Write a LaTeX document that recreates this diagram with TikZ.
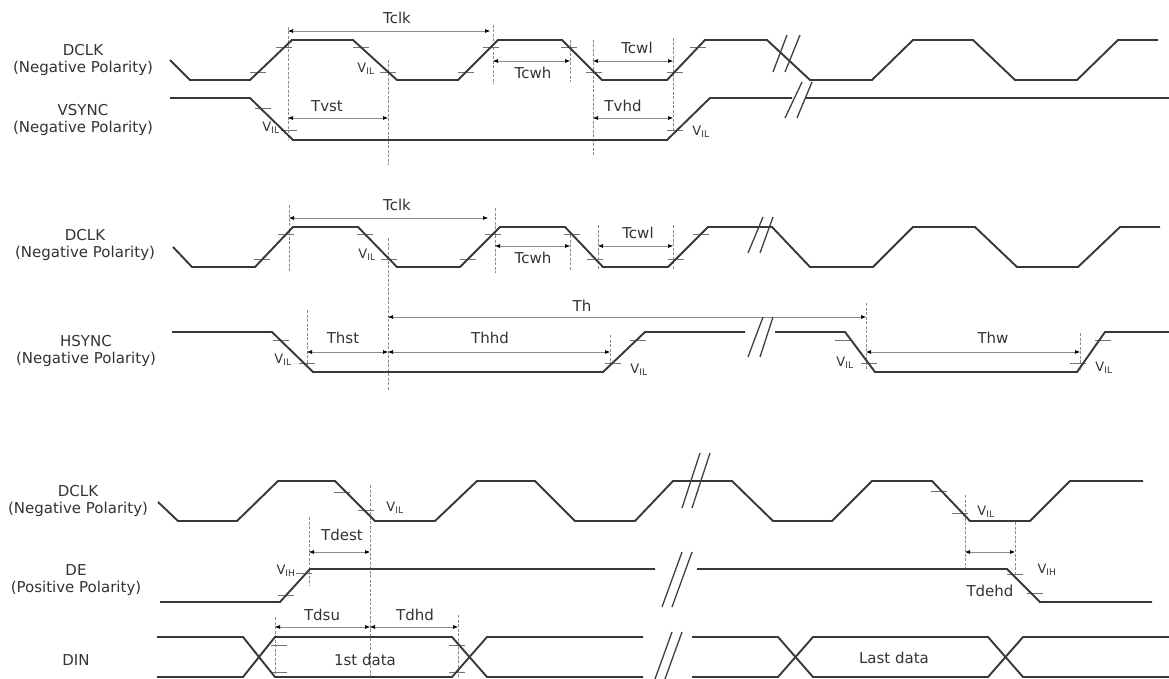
\documentclass[tikz,border=0pt]{standalone}
\usepackage{fontspec}
\setmainfont{DejaVu Sans}
\usetikzlibrary{arrows.meta}
\newcommand\vil{V\textsubscript{IL}}
\newcommand\vih{V\textsubscript{IH}}

\begin{document}
\begin{tikzpicture}
    [x=1pt,y=-1pt,
     wave/.style={draw=black!78,line width=1.9pt},
     guide/.style={draw=black!45,line width=0.6pt,dash pattern=on 3pt off 1.5pt},
     dim/.style={draw=black!45,line width=0.6pt,{Latex[length=5pt,width=4pt,black]}-{Latex[length=5pt,width=4pt,black]}},
     tick/.style={draw=black!55,line width=0.8pt},
     brk/.style={draw=black!75,line width=1.3pt},
     sig/.style={align=center,font=\fontsize{15}{16.5}\selectfont,text=black!80},
     lbl/.style={font=\fontsize{15}{16}\selectfont,text=black!80},
     lvl/.style={font=\fontsize{13}{13}\selectfont,text=black!80,inner sep=1pt}]
    \fill[white] (0,0) rectangle (1169,679);
    \useasboundingbox (0,0) rectangle (1169,679);

    \node[sig] (dclkA) at (83,60) {DCLK\\(Negative Polarity)};
    \node[sig] (vsync) at (83,120) {VSYNC\\(Negative Polarity)};
    \node[sig] (dclkB) at (85,245) {DCLK\\(Negative Polarity)};
    \node[sig] (hsync) at (86,351) {HSYNC\\(Negative Polarity)};
    \node[sig] (dclkC) at (78,501) {DCLK\\(Negative Polarity)};
    \node[sig] (de) at (76,580) {DE\\(Positive Polarity)};
    \node[sig] (din) at (76,660) {DIN};

    \foreach \x/\a/\b in {288/27/140, 388/60/165, 493/25/84, 570/40/82, 593/40/155, 673/38/137,
                          289/205/272, 388/238/390, 495/208/273, 570/235/270, 598/225/270, 673/225/270,
                          307/310/367, 610/335/366, 866/303/370, 1080/333/370,
                          370/485/677, 309/517/585, 965/495/568, 1015/522/575, 275/617/677, 458/615/677}
        \draw[guide] (\x,\a) -- (\x,\b);

    \foreach \a/\b/\y in {288/490/31, 288/388/118, 493/570/61, 593/673/61, 593/673/118,
                          289/488/218, 495/570/246, 598/673/246, 388/866/317,
                          307/388/352, 388/610/352, 866/1080/352,
                          309/370/552, 965/1015/552, 275/370/627, 370/458/627}
        \draw[dim] (\a,\y) -- (\b,\y);

    \node[lbl] (tclkA) at (397,18) {Tclk};
    \node[lbl] (tvst) at (327,106) {Tvst};
    \node[lbl] (tcwhA) at (533,73) {Tcwh};
    \node[lbl] (tcwlA) at (637,48) {Tcwl};
    \node[lbl] (tvhd) at (623,106) {Tvhd};
    \node[lbl] (tclkB) at (397,205) {Tclk};
    \node[lbl] (tcwhB) at (533,258) {Tcwh};
    \node[lbl] (tcwlB) at (638,233) {Tcwl};
    \node[lbl] (th) at (582,306) {Th};
    \node[lbl] (thst) at (343,338) {Thst};
    \node[lbl] (thhd) at (490,338) {Thhd};
    \node[lbl] (thw) at (993,338) {Thw};
    \node[lbl] (tdest) at (342,535) {Tdest};
    \node[lbl] (tdehd) at (990,591) {Tdehd};
    \node[lbl] (tdsu) at (322,615) {Tdsu};
    \node[lbl] (tdhd) at (415,615) {Tdhd};
    \node[lbl] (first) at (365,660) {1st data};
    \node[lbl] (last) at (894,658) {Last data};

    \foreach \x/\y in {258/72, 284/47, 361/47, 388/72, 466/72, 491/47, 569/47, 594/72, 675/72, 698/47,
                       263/108, 289/130, 675/130,
                       262/259, 286/234, 365/234, 389/259, 468/259, 493/234, 572/234, 595/259, 676/259, 701/234,
                       281/340, 307/363, 613/363, 638/340, 843/340, 869/363, 1078/363, 1103/340,
                       342/492, 366/510, 939/491, 960/513,
                       286/595, 304/573, 1015/574, 1035/593,
                       279/645, 279/672, 457/645, 457/672}
        \draw[tick] (\x-8,\y) -- (\x+8,\y);

    \node[lvl] (vilA) at (366,69) {\vil};
    \node[lvl] (vilB) at (271,128) {\vil};
    \node[lvl] (vilC) at (701,132) {\vil};
    \node[lvl] (vilD) at (367,255) {\vil};
    \node[lvl] (vilE) at (283,360) {\vil};
    \node[lvl] (vilF) at (639,370) {\vil};
    \node[lvl] (vilG) at (845,363) {\vil};
    \node[lvl] (vilH) at (1104,368) {\vil};
    \node[lvl] (vilI) at (395,508) {\vil};
    \node[lvl] (vilJ) at (986,512) {\vil};
    \node[lvl] (vihA) at (286,571) {\vih};
    \node[lvl] (vihB) at (1047,570) {\vih};

    \draw[wave] (170,60) -- (190,80) -- (250,80) -- (292,40) -- (353,40) -- (397,80) -- (458,80) -- (498,40)
        -- (562,40) -- (602,80) -- (667,80) -- (705,40) -- (767,40) -- (810,80) -- (872,80) -- (913,40)
        -- (973,40) -- (1015,80) -- (1077,80) -- (1118,40) -- (1158,40);
    \draw[wave] (170,98) -- (250,98) -- (293,140) -- (667,140) -- (710,98) -- (792,98);
    \draw[wave] (806,98) -- (1169,98);
    \draw[wave] (173,247) -- (192,267) -- (255,267) -- (293,227) -- (358,227) -- (397,267) -- (460,267)
        -- (500,227) -- (565,227) -- (603,267) -- (668,267) -- (708,227) -- (772,227) -- (810,267)
        -- (873,267) -- (913,227) -- (975,227) -- (1017,267) -- (1078,267) -- (1120,227) -- (1160,227);
    \draw[wave] (172,332) -- (272,332) -- (313,372) -- (603,372) -- (645,332) -- (745,332);
    \draw[wave] (775,332) -- (845,332) -- (875,372) -- (1077,372) -- (1105,332) -- (1169,332);
    \draw[wave] (158,502) -- (178,521) -- (237,521) -- (278,481) -- (335,481) -- (375,521) -- (435,521)
        -- (477,481) -- (535,481) -- (575,521) -- (635,521) -- (673,481) -- (732,481) -- (773,521)
        -- (832,521) -- (872,481) -- (932,481) -- (970,521) -- (1030,521) -- (1070,481) -- (1143,481);
    \draw[wave] (160,602) -- (280,602) -- (310,569) -- (655,569);
    \draw[wave] (697,569) -- (1007,569) -- (1040,602) -- (1152,602);
    \draw[wave] (157,637) -- (243,637) -- (275,677) -- (452,677) -- (487,637) -- (643,637);
    \draw[wave] (157,677) -- (243,677) -- (275,637) -- (452,637) -- (487,677) -- (643,677);
    \draw[wave] (692,637) -- (778,637) -- (813,677) -- (988,677) -- (1023,637) -- (1169,637);
    \draw[wave] (692,677) -- (778,677) -- (813,637) -- (988,637) -- (1023,677) -- (1169,677);

    \foreach \xa/\ya/\xb/\yb in {787/35/773/72, 800/35/785/72, 802/82/785/118, 812/82/797/118,
                                 763/217/748/253, 773/217/760/253, 763/317/748/357, 773/317/760/357,
                                 700/453/682/508, 710/453/692/508, 682/552/662/607, 692/552/672/607,
                                 672/632/655/679, 682/632/665/679}
        \draw[brk] (\xa,\ya) -- (\xb,\yb);
\end{tikzpicture}
\end{document}
